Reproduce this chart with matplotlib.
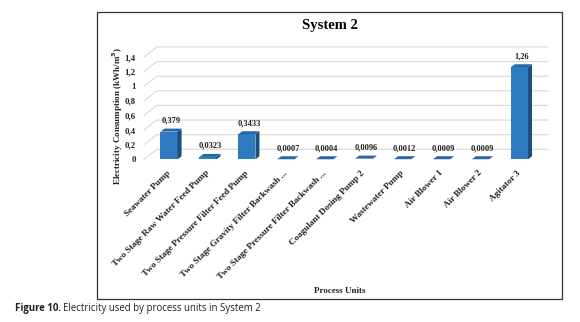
import numpy as np
import matplotlib
matplotlib.use('Agg')
import matplotlib.pyplot as plt
from matplotlib.patches import Polygon, Rectangle

# data
units = ['Seawater Pump', 'Two Stage Raw Water Feed Pump', 'Two Stage Pressure Filter Feed Pump',
         'Two Stage Gravity Filter Backwash ...', 'Two Stage Pressure Filter Backwash ...',
         'Coagulant Dosing Pump 2', 'Wastewater Pump', 'Air Blower 1', 'Air Blower 2', 'Agitator 3']
consumption = [0.379, 0.0323, 0.3433, 0.0007, 0.0004, 0.0096, 0.0012, 0.0009, 0.0009, 1.26]
y_ticks = [0, 0.2, 0.4, 0.6, 0.8, 1.0, 1.2, 1.4]

serif = 'Liberation Serif'
front_col = '#2E7BC2'
top_col = '#2767A6'
side_col = '#1D4F7E'
txt_col = '#222222'

fig = plt.figure(figsize=(5.8, 3.22), dpi=100)
W, H = 580, 322

# outer chart frame
fig.patches.append(Rectangle((97 / W, 1 - 299 / H), (562 - 97) / W, (299 - 12) / H,
                             transform=fig.transFigure, fill=False, edgecolor='#333333', lw=0.9))

ax = fig.add_axes([144 / W, 1 - 162 / H, (548 - 144) / W, (162 - 44) / H])
n = len(units)
x = np.arange(n)
x_lo, x_hi = -0.642, 9.733
y_lo, y_hi = -0.037, 1.578
ax.set_xlim(x_lo, x_hi)
ax.set_ylim(y_lo, y_hi)
for s in ax.spines.values():
    s.set_visible(False)

# back wall gridlines with a short slanted side segment
wall_dx, wall_dy = 0.33, 0.137
for v in y_ticks:
    ax.plot([x_lo, x_lo + wall_dx, x_hi], [v, v + wall_dy, v + wall_dy],
            color='#d9d9d9', lw=0.8, zorder=0, clip_on=False)

# pseudo-3D bars
bw = 0.44
dx, dy = 0.103, 0.041
ax.bar(x, consumption, width=bw, color=front_col, zorder=3)
for xi, v in zip(x, consumption):
    l, r = xi - bw / 2, xi + bw / 2
    ax.add_patch(Polygon([(l, v), (r, v), (r + dx, v + dy), (l + dx, v + dy)],
                         closed=True, facecolor=top_col, edgecolor='none', zorder=4))
    ax.add_patch(Polygon([(r, 0), (r + dx, dy), (r + dx, v + dy), (r, v)],
                         closed=True, facecolor=side_col, edgecolor='none', zorder=4))
    ax.annotate(str(v).replace('.', ','), (xi + dx / 2, v + dy), xytext=(0, 3),
                textcoords='offset points', ha='center', va='bottom',
                fontsize=6, fontweight='bold', family=serif, color=txt_col)

ax.set_yticks(y_ticks)
ax.set_yticklabels([f'{v:g}'.replace('.', ',') for v in y_ticks],
                   fontsize=6.3, fontweight='bold', family=serif, color=txt_col)
ax.set_xticks(x)
ax.set_xticklabels(units, rotation=45, ha='right', va='center', rotation_mode='anchor',
                   fontsize=6.6, fontweight='bold', family=serif, color=txt_col)
ax.tick_params(axis='both', length=0)
ax.tick_params(axis='y', pad=6)
ax.tick_params(axis='x', pad=7)

fig.text(330 / W, 1 - 26 / H, 'System 2', ha='center', va='center',
         fontsize=10.5, fontweight='bold', family=serif)
fig.text(118 / W, 1 - 116 / H, 'Electricity Consumption (kWh/m$^\\mathbf{3}$)', rotation=90,
         ha='center', va='center', fontsize=6.5, fontweight='bold', family=serif, color=txt_col)
fig.text(340 / W, 1 - 291 / H, 'Process Units', ha='center', va='center',
         fontsize=6.5, fontweight='bold', family=serif, color=txt_col)

# caption below the chart
cap1 = fig.text(15 / W, 1 - 309 / H, 'Figure 10.', ha='left', va='center',
                fontsize=6.9, fontweight='bold', family='Open Sans', color='#231f20')
renderer = fig.canvas.get_renderer()
bb = cap1.get_window_extent(renderer)
fig.text((bb.x1 + 2) / W, 1 - 309 / H, 'Electricity used by process units in System 2',
         ha='left', va='center', fontsize=6.9, family='Open Sans', color='#231f20')

fig.savefig('out.png', dpi=100)
